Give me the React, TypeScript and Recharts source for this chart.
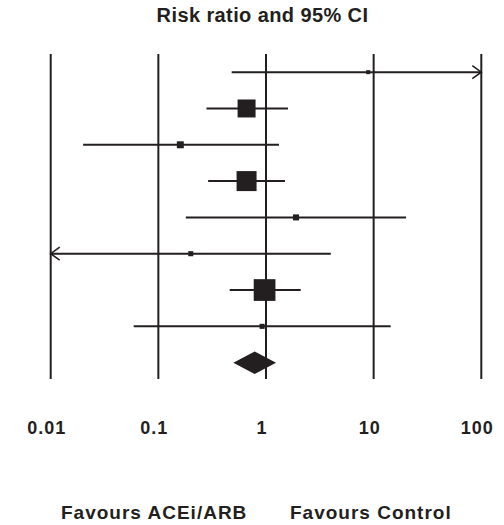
import React from "react";
import {
  ComposedChart,
  Scatter,
  XAxis,
  YAxis,
  ReferenceLine,
  ReferenceArea,
} from "recharts";

// study rows, top to bottom
const rows = [1, 2, 3, 4, 5, 6, 7, 8];
const estimates = [8.9, 0.66, 0.16, 0.66, 1.9, 0.2, 0.97, 0.92];
const lowers = [0.48, 0.28, 0.02, 0.29, 0.18, 0.005, 0.46, 0.059];
const uppers = [150, 1.6, 1.32, 1.5, 20, 4.0, 2.1, 14.4];
const weights = [1.2, 24.0, 3.6, 29.7, 2.7, 1.9, 35.0, 1.9];

// pooled estimate
const pooledRow = 9;
const pooledEstimate = 0.785;
const pooledLower = 0.497;
const pooledUpper = 1.24;

const xTicks = [0.01, 0.1, 1, 10, 100];
const xTickLabels = ["0.01", "0.1", "1", "10", "100"];

const X_MIN = 0.01;
const X_MAX = 100;
const INK = "#231f20";

const studyData = rows.map((row, i) => ({
  x: estimates[i],
  y: row,
  w: weights[i],
}));

const clampX = (v: number) => Math.min(Math.max(v, X_MIN), X_MAX);

function SquareMarker(props: any) {
  const { cx, cy, payload } = props;
  if (cx == null || cy == null) return null;
  const s = 3.67 * Math.sqrt(payload.w);
  return <rect x={cx - s / 2} y={cy - s / 2} width={s} height={s} fill={INK} />;
}

function ciShape(arrowLeft: boolean, arrowRight: boolean) {
  return (props: any) => {
    const { x1, y1, x2, y2 } = props;
    return (
      <g>
        <line x1={x1} y1={y1} x2={x2} y2={y2} stroke={INK} strokeWidth={2} />
        {arrowLeft && (
          <polyline
            points={`${x1 + 9},${y1 - 6.5} ${x1},${y1} ${x1 + 9},${y1 + 6.5}`}
            fill="none"
            stroke={INK}
            strokeWidth={1.6}
          />
        )}
        {arrowRight && (
          <polyline
            points={`${x2 - 9},${y2 - 6.5} ${x2},${y2} ${x2 - 9},${y2 + 6.5}`}
            fill="none"
            stroke={INK}
            strokeWidth={1.6}
          />
        )}
      </g>
    );
  };
}

// diamond for the pooled estimate, drawn inside the area the scales give
function DiamondShape(props: any) {
  const { x, y, width, height } = props;
  const midX = x + width / 2;
  const midY = y + height / 2;
  return (
    <polygon
      points={`${x},${midY} ${midX},${y} ${x + width},${midY} ${midX},${y + height}`}
      fill={INK}
    />
  );
}

function TickLabel(props: any) {
  const { x, y, payload } = props;
  const idx = xTicks.indexOf(payload.value);
  return (
    <text
      x={x - 4}
      y={y + 55}
      textAnchor="middle"
      fill={INK}
      fontSize={18}
      fontWeight="bold"
      letterSpacing={1}
      fontFamily="'Liberation Sans', Arial, sans-serif"
    >
      {idx >= 0 ? xTickLabels[idx] : payload.value}
    </text>
  );
}

const textStyle: React.CSSProperties = {
  position: "absolute",
  fontFamily: "'Liberation Sans', Arial, sans-serif",
  fontWeight: "bold",
  color: INK,
  whiteSpace: "nowrap",
  lineHeight: 1,
};

export default function App() {
  return (
    <div
      style={{
        position: "absolute",
        left: 0,
        top: 0,
        width: 504,
        height: 525,
        background: "#fff",
      }}
    >
      <div
        style={{
          ...textStyle,
          left: 0,
          width: 525,
          top: 5,
          textAlign: "center",
          fontSize: 20,
          letterSpacing: 0.4,
        }}
      >
        Risk ratio and 95% CI
      </div>
      <ComposedChart
        width={504}
        height={525}
        margin={{ top: 54, right: 22.7, bottom: 86, left: 50.7 }}
      >
        <XAxis
          type="number"
          dataKey="x"
          scale="log"
          domain={[X_MIN, X_MAX]}
          ticks={xTicks}
          allowDataOverflow
          axisLine={false}
          tickLine={false}
          tickSize={0}
          tickMargin={0}
          height={60}
          tick={<TickLabel />}
          interval={0}
        />
        <YAxis type="number" dataKey="y" domain={[0.5, 9.45]} reversed hide />
        {xTicks.map((t) => (
          <ReferenceLine key={t} x={t} stroke={INK} strokeWidth={2} />
        ))}
        {rows.map((row, i) => (
          <ReferenceLine
            key={`ci-${row}`}
            segment={[
              { x: clampX(lowers[i]), y: row },
              { x: clampX(uppers[i]), y: row },
            ]}
            shape={ciShape(lowers[i] < X_MIN, uppers[i] > X_MAX)}
          />
        ))}
        <ReferenceArea
          x1={pooledLower}
          x2={pooledUpper}
          y1={pooledRow - 0.31}
          y2={pooledRow + 0.31}
          shape={<DiamondShape />}
        />
        <Scatter
          data={studyData}
          shape={<SquareMarker />}
          isAnimationActive={false}
        />
      </ComposedChart>
      <div style={{ ...textStyle, left: 61, top: 503, fontSize: 19, letterSpacing: 1 }}>
        Favours ACEi/ARB
      </div>
      <div style={{ ...textStyle, left: 290, top: 503, fontSize: 19, letterSpacing: 1 }}>
        Favours Control
      </div>
    </div>
  );
}
